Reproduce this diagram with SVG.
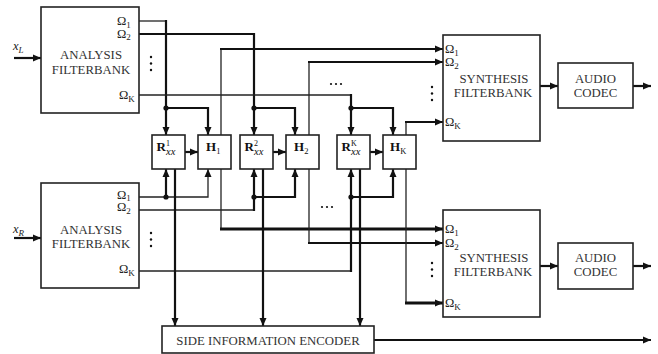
<svg xmlns="http://www.w3.org/2000/svg" width="658" height="354" viewBox="0 0 658 354">
<defs>
<marker id="ah" markerUnits="userSpaceOnUse" markerWidth="9" markerHeight="8" refX="8" refY="4" orient="auto"><path d="M0,0.5 L8,4 L0,7.5 z" fill="#111"/></marker>
</defs>
<style>
.box{fill:#fff;stroke:#222;stroke-width:1.6}
.t{font-family:"Liberation Serif","Times New Roman",serif;fill:#333;font-size:12.8px;text-anchor:middle}
.om{font-family:"Liberation Serif","Times New Roman",serif;fill:#222;font-size:12.5px}
.sub{font-size:9px}
.lb{font-family:"Liberation Serif","Times New Roman",serif;fill:#111;font-size:13px;font-weight:bold}
.it{font-style:italic;font-weight:normal}
.w{fill:none;stroke:#111;stroke-width:2.2}
.n{fill:none;stroke:#222;stroke-width:1.3}
.a{marker-end:url(#ah)}
.dot{fill:#111}
</style>
<rect width="658" height="354" fill="#fff"/>

<g id="connectors">
  <path class="w a" d="M14,58 H41"/>
  <path class="w a" d="M14,238 H41"/>
  <path class="n" d="M139,21 H166"/>
  <path class="w a" d="M166,20 V135"/>
  <path class="w a" d="M166,108 H208 V135"/>
  <path class="w a" d="M139,34 H254 V135"/>
  <path class="w a" d="M254,108 H295 V135"/>
  <path class="n" d="M139,95 H351"/>
  <path class="w a" d="M351,94 V135"/>
  <path class="w a" d="M351,108 H393 V135"/>
  <path class="n a" d="M139,197 H208 V169"/>
  <path class="w a" d="M166,197 V169"/>
  <path class="n" d="M139,210 H254"/>
  <path class="w a" d="M254,211 V169"/>
  <path class="w a" d="M254,197 H295 V169"/>
  <path class="n" d="M139,271 H351"/>
  <path class="w a" d="M351,272 V169"/>
  <path class="w a" d="M351,197 H393 V169"/>
  <path class="w a" d="M185,152 H198"/>
  <path class="w a" d="M273,152 H286"/>
  <path class="w a" d="M370,152 H383"/>
  <path class="n" d="M221,135 V49"/>
  <path class="w a" d="M220,49 H443"/>
  <path class="n" d="M309,135 V62"/>
  <path class="w a" d="M308,62 H443"/>
  <path class="n" d="M406,135 V122"/>
  <path class="w a" d="M405,122 H443"/>
  <path class="n" d="M221,169 V229"/>
  <path class="w a" d="M220,229 H443" style="stroke-width:2.8"/>
  <path class="n" d="M309,169 V243"/>
  <path class="w a" d="M308,243 H443"/>
  <path class="n" d="M406,169 V303"/>
  <path class="w a" d="M405,303 H443" style="stroke-width:2.8"/>
  <path class="w a" d="M175,169 V326"/>
  <path class="w a" d="M263,169 V326"/>
  <path class="w a" d="M360,169 V326"/>
  <path class="w a" d="M374,340 H651"/>
  <path class="w a" d="M540,86 H558"/>
  <path class="w a" d="M633,86 H651"/>
  <path class="w a" d="M540,266 H558"/>
  <path class="w a" d="M633,266 H651"/>
  <circle class="dot" cx="166" cy="108" r="2.6"/>
  <circle class="dot" cx="254" cy="108" r="2.6"/>
  <circle class="dot" cx="351" cy="108" r="2.6"/>
  <circle class="dot" cx="166" cy="197" r="2.6"/>
  <circle class="dot" cx="254" cy="197" r="2.6"/>
  <circle class="dot" cx="351" cy="197" r="2.6"/>
  <g class="dot">
    <circle cx="331" cy="84" r="1.1"/><circle cx="336" cy="84" r="1.1"/><circle cx="341" cy="84" r="1.1"/>
    <circle cx="322" cy="207" r="1.1"/><circle cx="327" cy="207" r="1.1"/><circle cx="332" cy="207" r="1.1"/>
    <circle cx="151" cy="57" r="1.2"/><circle cx="151" cy="63.5" r="1.2"/><circle cx="151" cy="70" r="1.2"/>
    <circle cx="151" cy="233" r="1.2"/><circle cx="151" cy="239.5" r="1.2"/><circle cx="151" cy="246" r="1.2"/>
    <circle cx="432" cy="87" r="1.2"/><circle cx="432" cy="93.5" r="1.2"/><circle cx="432" cy="100" r="1.2"/>
    <circle cx="432" cy="263" r="1.2"/><circle cx="432" cy="269.5" r="1.2"/><circle cx="432" cy="276" r="1.2"/>
  </g>
</g>

<g id="xL"><text class="om" x="13" y="50" font-style="italic">x<tspan class="sub" font-size="10" dy="3">L</tspan></text></g>
<g id="xR"><text class="om" x="13" y="233" font-style="italic">x<tspan class="sub" font-size="10" dy="3">R</tspan></text></g>

<g id="analysisL">
  <rect class="box" x="41" y="7" width="98" height="106"/>
  <text class="t" x="91" y="59">ANALYSIS</text>
  <text class="t" x="91" y="74">FILTERBANK</text>
  <text class="om" x="117" y="25">Ω<tspan class="sub" dy="2.5">1</tspan></text>
  <text class="om" x="117" y="37.5">Ω<tspan class="sub" dy="2.5">2</tspan></text>
  <text class="om" x="119" y="99">Ω<tspan class="sub" dy="2.5">K</tspan></text>
</g>

<g id="analysisR">
  <rect class="box" x="41" y="183" width="98" height="105"/>
  <text class="t" x="91" y="234">ANALYSIS</text>
  <text class="t" x="91" y="248">FILTERBANK</text>
  <text class="om" x="117" y="198.5">Ω<tspan class="sub" dy="2.5">1</tspan></text>
  <text class="om" x="117" y="211">Ω<tspan class="sub" dy="2.5">2</tspan></text>
  <text class="om" x="119" y="273">Ω<tspan class="sub" dy="2.5">K</tspan></text>
</g>

<g id="R1">
  <rect class="box" x="152" y="135" width="33" height="34"/>
  <text class="lb" x="156.5" y="151">R<tspan font-size="8" font-weight="normal" dy="-5.5">1</tspan><tspan class="it" font-size="10.5" x="166" dy="9.5">xx</tspan></text>
</g>
<g id="H1">
  <rect class="box" x="198" y="135" width="33" height="34"/>
  <text class="lb" x="206" y="151">H<tspan font-size="8.5" font-weight="normal" dy="2.5">1</tspan></text>
</g>
<g id="R2">
  <rect class="box" x="240" y="135" width="33" height="34"/>
  <text class="lb" x="244.5" y="151">R<tspan font-size="8" font-weight="normal" dy="-5.5">2</tspan><tspan class="it" font-size="10.5" x="254" dy="9.5">xx</tspan></text>
</g>
<g id="H2">
  <rect class="box" x="286" y="135" width="33" height="34"/>
  <text class="lb" x="294" y="151">H<tspan font-size="8.5" font-weight="normal" dy="2.5">2</tspan></text>
</g>
<g id="RK">
  <rect class="box" x="337" y="135" width="33" height="34"/>
  <text class="lb" x="341.5" y="151">R<tspan font-size="8" font-weight="normal" dy="-5.5">K</tspan><tspan class="it" font-size="10.5" x="351" dy="9.5">xx</tspan></text>
</g>
<g id="HK">
  <rect class="box" x="383" y="135" width="33" height="34"/>
  <text class="lb" x="390" y="151">H<tspan font-size="8.5" font-weight="normal" dy="2.5">K</tspan></text>
</g>

<g id="synthTop">
  <rect class="box" x="443" y="35" width="97" height="106"/>
  <text class="t" x="494" y="83">SYNTHESIS</text>
  <text class="t" x="493" y="97">FILTERBANK</text>
  <text class="om" x="445" y="53">Ω<tspan class="sub" dy="2.5">1</tspan></text>
  <text class="om" x="445" y="66">Ω<tspan class="sub" dy="2.5">2</tspan></text>
  <text class="om" x="445" y="126">Ω<tspan class="sub" dy="2.5">K</tspan></text>
</g>
<g id="synthBot">
  <rect class="box" x="443" y="210" width="97" height="107"/>
  <text class="t" x="494" y="262">SYNTHESIS</text>
  <text class="t" x="493" y="276">FILTERBANK</text>
  <text class="om" x="445" y="233">Ω<tspan class="sub" dy="2.5">1</tspan></text>
  <text class="om" x="445" y="247">Ω<tspan class="sub" dy="2.5">2</tspan></text>
  <text class="om" x="445" y="307">Ω<tspan class="sub" dy="2.5">K</tspan></text>
</g>

<g id="codecTop">
  <rect class="box" x="558" y="63" width="75" height="45"/>
  <text class="t" x="595.5" y="83">AUDIO</text>
  <text class="t" x="595.5" y="97">CODEC</text>
</g>
<g id="codecBot">
  <rect class="box" x="558" y="243" width="75" height="46"/>
  <text class="t" x="595.5" y="262">AUDIO</text>
  <text class="t" x="595.5" y="276">CODEC</text>
</g>

<g id="encoder">
  <rect class="box" x="162" y="326" width="212" height="27"/>
  <text class="t" x="268" y="344.5">SIDE INFORMATION ENCODER</text>
</g>
</svg>
